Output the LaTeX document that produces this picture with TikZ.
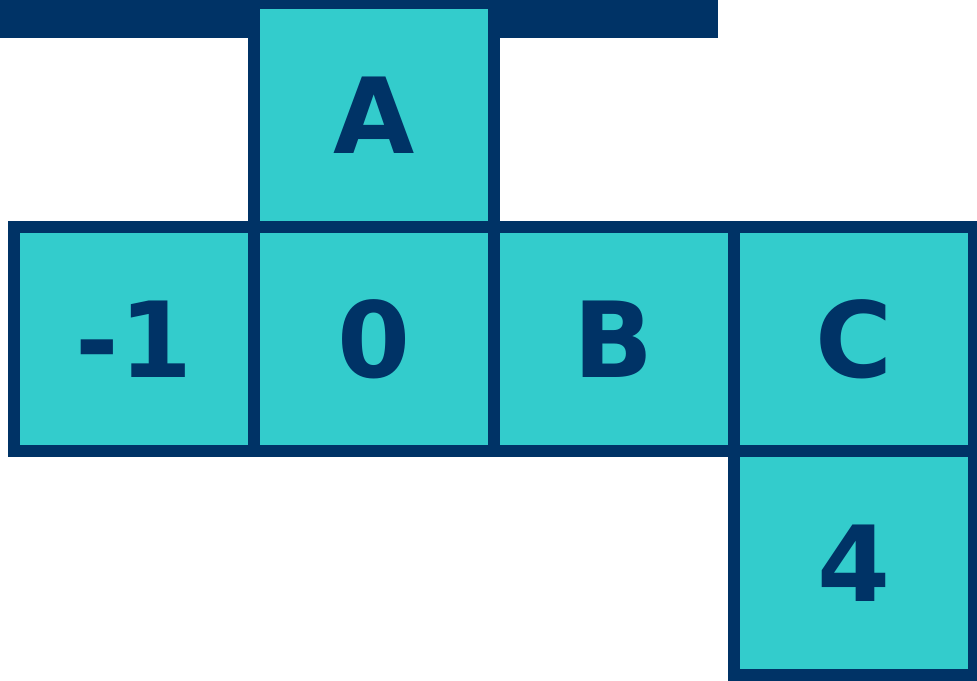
\documentclass[tikz,border=0pt]{standalone}
\usepackage{fontspec}
\setmainfont{DejaVu Sans}
\definecolor{netNavy}{RGB}{0,51,102}
\definecolor{netTeal}{RGB}{51,204,204}

\begin{document}
\begin{tikzpicture}[x=1pt,y=-1pt,
  face/.style={draw=netNavy,fill=netTeal,line width=12pt,
    minimum width=240pt,minimum height=224pt,inner sep=0pt,
    font=\bfseries\fontsize{105}{105}\selectfont,text=netNavy}]
\useasboundingbox (0,0) rectangle (977,680);
% bar behind the top face
\fill[netNavy] (0,0) rectangle (718,38);
\node[face] (fA) at (374,115) {A};
% middle row of the net
\foreach \v/\n [count=\i from 0] in {-1/fm,0/f0,B/fB,C/fC}{
  \node[face] (\n) at ({134+\i*240},339) {\v};
}
\node[face] (f4) at (854,563) {4};
\end{tikzpicture}
\end{document}
